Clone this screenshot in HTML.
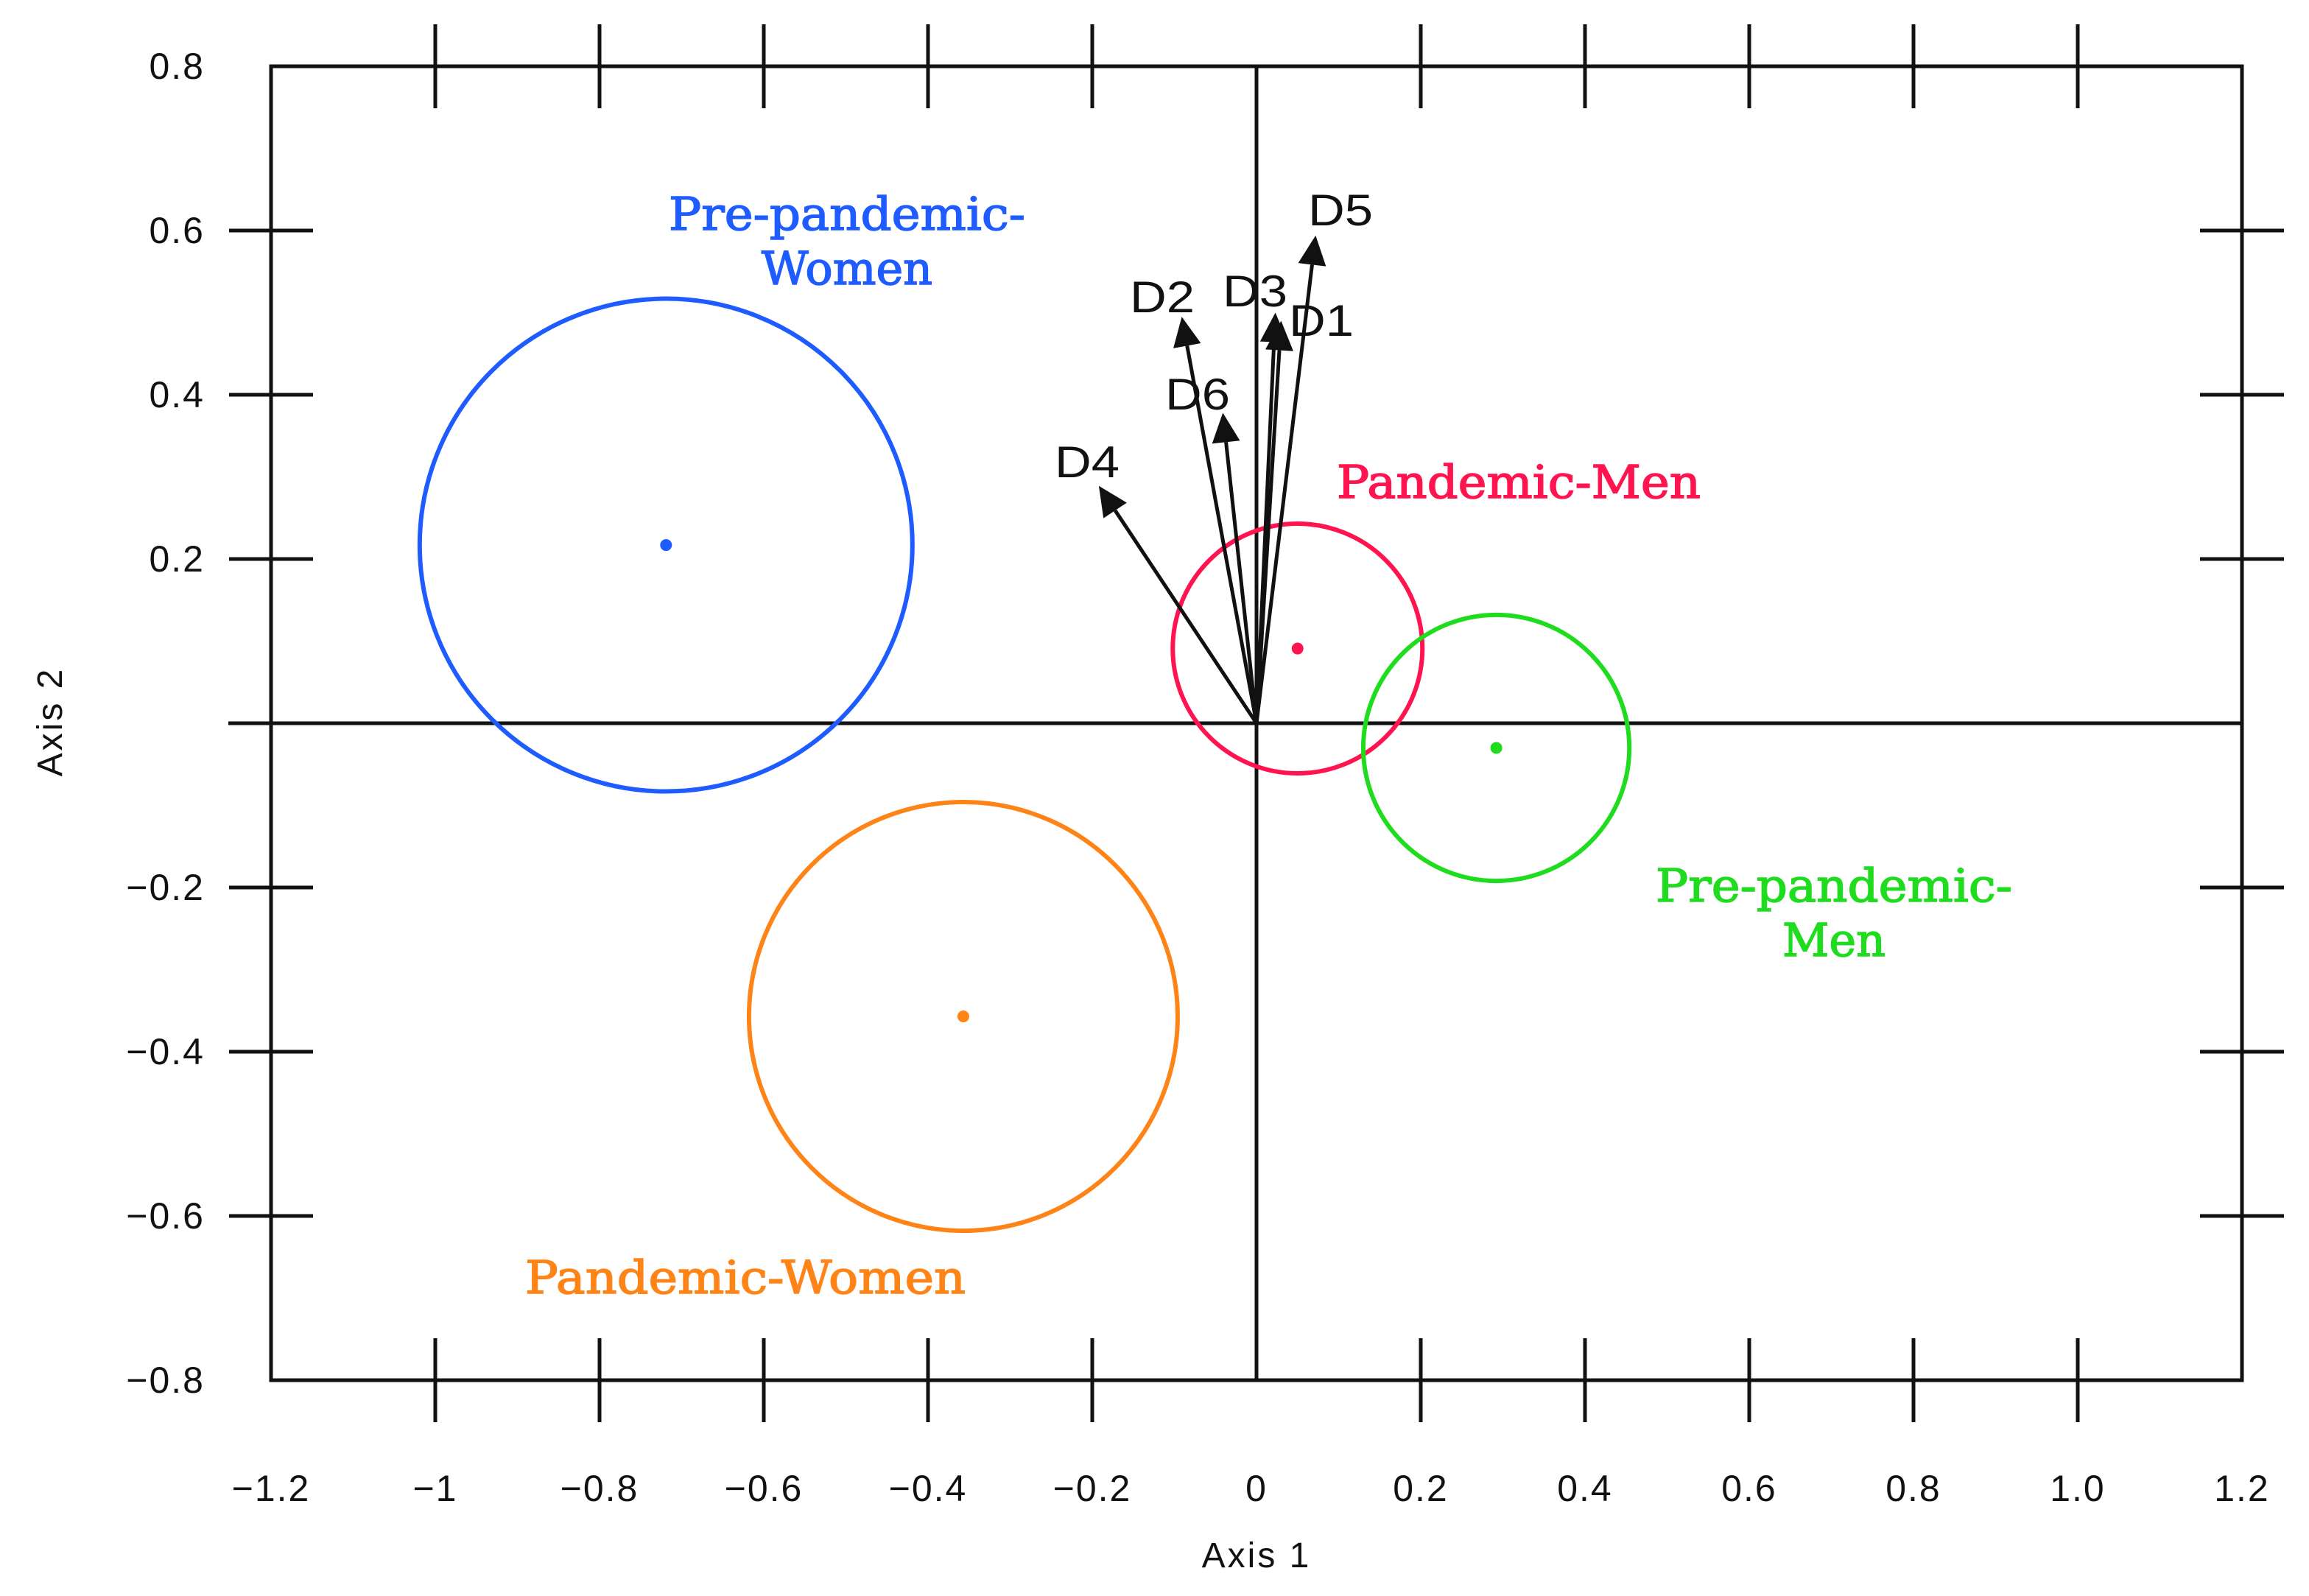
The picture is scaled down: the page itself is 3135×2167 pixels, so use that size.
<!DOCTYPE html>
<html><head><meta charset="utf-8"><style>
html,body{margin:0;padding:0;background:#fff;}
svg{display:block;}
</style></head><body>
<svg id="chart" width="3135" height="2167" viewBox="0 0 3135 2167" xmlns="http://www.w3.org/2000/svg">
<g id="grid"></g>
<g id="marks"></g>
<g id="labels"></g>
</svg>
<script>
// ---- data ----
const xTicks = [-1.2,-1,-0.8,-0.6,-0.4,-0.2,0,0.2,0.4,0.6,0.8,1.0,1.2];
const xTickLabels = ["\u22121.2","\u22121","\u22120.8","\u22120.6","\u22120.4","\u22120.2","0","0.2","0.4","0.6","0.8","1.0","1.2"];
const yTicks = [0.8,0.6,0.4,0.2,-0.2,-0.4,-0.6,-0.8];
const yTickLabels = ["0.8","0.6","0.4","0.2","\u22120.2","\u22120.4","\u22120.6","\u22120.8"];
const groupNames = ["Pre-pandemic-Women","Pandemic-Women","Pandemic-Men","Pre-pandemic-Men"];
const groupX = [-0.719,-0.357,0.050,0.292];
const groupY = [0.217,-0.357,0.091,-0.030];
const groupR = [0.300,0.261,0.152,0.162];
const arrowNames = ["D1","D2","D3","D4","D5","D6"];
const arrowX = [0.030,-0.091,0.023,-0.192,0.072,-0.041];
const arrowY = [0.490,0.495,0.500,0.289,0.594,0.378];

// ---- layout ----
const L=368,R=3044,T=90,B=1874;
const xmin=-1.2,xmax=1.2,ymin=-0.8,ymax=0.8;
const sx=v=>L+(v-xmin)/(xmax-xmin)*(R-L);
const sy=v=>B-(v-ymin)/(ymax-ymin)*(B-T);
const unit=(R-L)/(xmax-xmin);
const NS="http://www.w3.org/2000/svg";
function mk(tag,parent,attrs){const e=document.createElementNS(NS,tag);for(const k in attrs)e.setAttribute(k,attrs[k]);parent.appendChild(e);return e;}
const grid=document.getElementById('grid'),marks=document.getElementById('marks'),labels=document.getElementById('labels');

let fr=mk('rect',grid,{x:L,y:T,width:R-L,height:B-T,fill:'none',stroke:'#111','stroke-width':5});


let hz=mk('line',grid,{x1:L-58,y1:sy(0),x2:R,y2:sy(0),stroke:'#111','stroke-width':5});


let vz=mk('line',grid,{x1:sx(0),y1:T,x2:sx(0),y2:B,stroke:'#111','stroke-width':5});



const TL=57;
xTicks.forEach((v,i)=>{
  const x=sx(v);
  if(i>0&&i<xTicks.length-1&&v!==0){
    [T,B].forEach(yy=>{
      let t=mk('line',grid,{x1:x,y1:yy-TL,x2:x,y2:yy+TL,stroke:'#111','stroke-width':5});
      
      
    });
  }
  let lb=mk('text',labels,{x:x,y:2038,'text-anchor':'middle','font-family':'"Liberation Sans Narrow","Liberation Sans",sans-serif','font-size':50,'letter-spacing':2,fill:'#111'});
  lb.textContent=xTickLabels[i];
  
  
});
yTicks.forEach((v,i)=>{
  const y=sy(v);
  if(i>0&&i<yTicks.length-1){
    [L,R].forEach(xx=>{
      let t=mk('line',grid,{x1:xx-TL,y1:y,x2:xx+TL,y2:y,stroke:'#111','stroke-width':5});
      
      
    });
  }
  let lb=mk('text',labels,{x:278,y:y+17,'text-anchor':'end','font-family':'"Liberation Sans Narrow","Liberation Sans",sans-serif','font-size':50,'letter-spacing':2,fill:'#111'});
  lb.textContent=yTickLabels[i];
  
  
});

let xt=mk('text',labels,{x:1706,y:2128,'text-anchor':'middle','font-family':'"Liberation Sans",sans-serif','font-size':48,'letter-spacing':3,fill:'#111'});
xt.textContent='Axis  1';


let yt=mk('text',labels,{x:0,y:0,'text-anchor':'middle','font-family':'"Liberation Sans",sans-serif','font-size':48,'letter-spacing':3,fill:'#111',transform:'translate(84,980) rotate(-90)'});
yt.textContent='Axis  2';



const colors=['#1e5cff','#ff8418','#ff1450','#1fdc1f'];
groupNames.forEach((n,i)=>{
  let c=mk('circle',marks,{cx:sx(groupX[i]),cy:sy(groupY[i]),r:groupR[i]*unit,fill:'none',stroke:colors[i],'stroke-width':6});
  
  
  let d=mk('circle',marks,{cx:sx(groupX[i]),cy:sy(groupY[i]),r:8,fill:colors[i]});
  
  
});

const ox=sx(0),oy=sy(0);
arrowNames.forEach((n,i)=>{
  const tx=sx(arrowX[i]),ty=sy(arrowY[i]);
  const dx=tx-ox,dy=ty-oy,len=Math.hypot(dx,dy),ux=dx/len,uy=dy/len;
  const hl=40,hw=19;
  const bx=tx-ux*hl,by=ty-uy*hl;
  let s=mk('line',marks,{x1:ox,y1:oy,x2:bx,y2:by,stroke:'#111','stroke-width':5});
  
  
  let h=mk('polygon',marks,{points:`${tx},${ty} ${bx-uy*hw},${by+ux*hw} ${bx+uy*hw},${by-ux*hw}`,fill:'#111'});
  
  
});
const arrowLabelPos={D1:[1794,456],D2:[1578,424],D3:[1704,416],D4:[1476,648],D5:[1820,306],D6:[1626,556]};
arrowNames.forEach(n=>{
  const p=arrowLabelPos[n];
  let t=mk('text',labels,{x:p[0],y:p[1],'text-anchor':'middle','font-family':'"Liberation Sans",sans-serif','font-size':60,fill:'#111',textLength:88,lengthAdjust:'spacingAndGlyphs'});
  t.textContent=n;
  
  
});

const gl=[
 {lines:['Pre-pandemic-','Women'],x:1150,y:[312,386],c:colors[0],w:[484,null]},
 {lines:['Pandemic-Women'],x:1012,y:[1756],c:colors[1],w:[598]},
 {lines:['Pandemic-Men'],x:2062,y:[676],c:colors[2],w:[494]},
 {lines:['Pre-pandemic-','Men'],x:2490,y:[1224,1298],c:colors[3],w:[484,null]}
];
gl.forEach(g=>{
  g.lines.forEach((ln,j)=>{
    const a={x:g.x,y:g.y[j],'text-anchor':'middle','font-family':'"DejaVu Serif","Liberation Serif",serif','font-size':62,fill:g.c,stroke:g.c,'stroke-width':1.5};
    if(g.w[j]){a.textLength=g.w[j];a.lengthAdjust='spacingAndGlyphs';}
    let t=mk('text',labels,a);
    t.textContent=ln;
    
    
  });
});
</script>
</body></html>
